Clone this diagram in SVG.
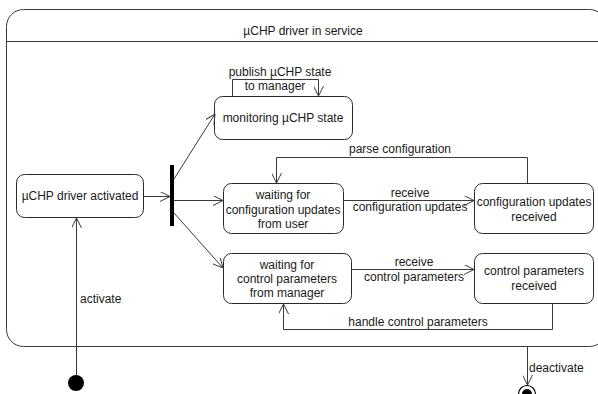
<svg xmlns="http://www.w3.org/2000/svg" width="598" height="394" viewBox="0 0 598 394">
  <style>
    .frame { fill: #ffffff; stroke: #3a3a3a; stroke-width: 1; }
    .state { fill: #ffffff; stroke: #2a2a2a; stroke-width: 1; }
    .edge { fill: none; stroke: #3a3a3a; stroke-width: 1; }
    text { font-family: "Liberation Sans", Arial, sans-serif; font-size: 12px; fill: #1a1a1a; }
    .c { text-anchor: middle; }
  </style>
  <defs>
    <marker id="open" viewBox="0 0 10 10" refX="10" refY="5" markerWidth="10" markerHeight="10" markerUnits="userSpaceOnUse" orient="auto">
      <path d="M0,0 L10,5 L0,10" fill="none" stroke="#3a3a3a" stroke-width="1"/>
    </marker>
  </defs>

  <rect width="598" height="394" fill="#ffffff"/>

  <!-- composite state -->
  <g id="in-service">
    <rect class="frame" x="6.5" y="9.5" width="600" height="337" rx="17" ry="17"/>
    <line class="edge" x1="6.5" y1="41.5" x2="606" y2="41.5"/>
    <text class="c" x="303" y="35">µCHP driver in service</text>
  </g>

  <g id="activated">
    <rect class="state" x="16.5" y="174.5" width="127" height="43" rx="8"/>
    <text class="c" x="80" y="200">µCHP driver activated</text>
  </g>

  <g id="fork">
    <rect x="170" y="165" width="4" height="61" fill="#000000"/>
  </g>

  <g id="monitoring">
    <rect class="state" x="214.5" y="96.5" width="138" height="43" rx="8"/>
    <text class="c" x="283" y="122">monitoring µCHP state</text>
  </g>

  <g id="wait-config">
    <rect class="state" x="223.5" y="183.5" width="120" height="50" rx="8"/>
    <text class="c" x="283" y="199">waiting for</text>
    <text class="c" x="283" y="214">configuration updates</text>
    <text class="c" x="283" y="228">from user</text>
  </g>

  <g id="config-received">
    <rect class="state" x="474.5" y="183.5" width="119" height="50" rx="8"/>
    <text class="c" x="534" y="206">configuration updates</text>
    <text class="c" x="534" y="221">received</text>
  </g>

  <g id="wait-control">
    <rect class="state" x="223.5" y="253.5" width="128" height="50" rx="8"/>
    <text class="c" x="287" y="269">waiting for</text>
    <text class="c" x="287" y="283">control parameters</text>
    <text class="c" x="287" y="297">from manager</text>
  </g>

  <g id="control-received">
    <rect class="state" x="474.5" y="253.5" width="119" height="50" rx="8"/>
    <text class="c" x="534" y="275">control parameters</text>
    <text class="c" x="534" y="290">received</text>
  </g>

  <g id="initial">
    <circle cx="76" cy="383" r="8" fill="#000000"/>
  </g>

  <g id="final">
    <circle cx="527" cy="394" r="8.5" fill="#ffffff" stroke="#000000" stroke-width="1.2"/>
    <circle cx="527" cy="394" r="5" fill="#000000"/>
  </g>

  <g id="connectors">
    <path class="edge" d="M76.5,375 V218" marker-end="url(#open)"/>
    <text x="80" y="303">activate</text>

    <path class="edge" d="M144,196.5 H170" marker-end="url(#open)"/>
    <path class="edge" d="M174,179 L215,114" marker-end="url(#open)"/>
    <path class="edge" d="M174,200.5 H223" marker-end="url(#open)"/>
    <path class="edge" d="M174,213 L223,268" marker-end="url(#open)"/>

    <path class="edge" d="M232.5,96 V79.5 H318.5 V96" marker-end="url(#open)"/>
    <text class="c" x="280" y="76">publish µCHP state</text>
    <text class="c" x="275" y="90">to manager</text>

    <path class="edge" d="M343,200.5 H474" marker-end="url(#open)"/>
    <text class="c" x="410" y="197">receive</text>
    <text class="c" x="410" y="211">configuration updates</text>

    <path class="edge" d="M527.5,183 V157.5 H276.5 V183" marker-end="url(#open)"/>
    <text class="c" x="400" y="153">parse configuration</text>

    <path class="edge" d="M351,269.5 H474" marker-end="url(#open)"/>
    <text class="c" x="414" y="266">receive</text>
    <text class="c" x="414" y="281">control parameters</text>

    <path class="edge" d="M552.5,304 V329.5 H283.5 V304" marker-end="url(#open)"/>
    <text class="c" x="418" y="326">handle control parameters</text>

    <path class="edge" d="M527.5,347 V385" marker-end="url(#open)"/>
    <text x="529" y="372">deactivate</text>
  </g>
</svg>
